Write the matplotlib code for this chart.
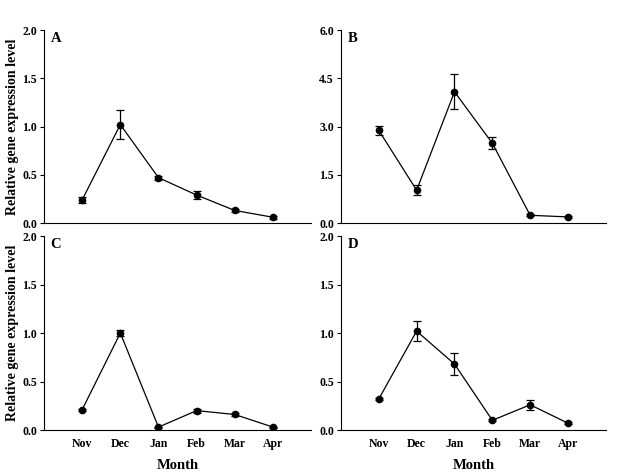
import matplotlib
matplotlib.use("Agg")
import matplotlib.pyplot as plt

plt.rcParams['font.family'] = ['Liberation Serif', 'DejaVu Serif']
plt.rcParams['font.weight'] = 'bold'

months = ["Nov", "Dec", "Jan", "Feb", "Mar", "Apr"]
xpos = [1, 2, 3, 4, 5, 6]

a_vals = [0.24, 1.02, 0.47, 0.29, 0.13, 0.06]
a_err = [0.03, 0.15, 0.02, 0.04, 0.02, 0.015]

b_vals = [2.88, 1.02, 4.08, 2.48, 0.24, 0.19]
b_err = [0.14, 0.15, 0.55, 0.18, 0.03, 0.03]

c_vals = [0.21, 1.00, 0.03, 0.20, 0.16, 0.03]
c_err = [0.01, 0.03, 0.005, 0.02, 0.02, 0.005]

d_vals = [0.32, 1.02, 0.68, 0.10, 0.26, 0.07]
d_err = [0.01, 0.10, 0.11, 0.01, 0.05, 0.01]

panels = [
    ("A", a_vals, a_err, [0.0, 0.5, 1.0, 1.5, 2.0], 2.0),
    ("B", b_vals, b_err, [0.0, 1.5, 3.0, 4.5, 6.0], 6.0),
    ("C", c_vals, c_err, [0.0, 0.5, 1.0, 1.5, 2.0], 2.0),
    ("D", d_vals, d_err, [0.0, 0.5, 1.0, 1.5, 2.0], 2.0),
]

rects = [
    [0.0709, 0.5285, 0.430, 0.408],
    [0.549, 0.5285, 0.4267, 0.408],
    [0.0709, 0.0909, 0.430, 0.410],
    [0.549, 0.0909, 0.4267, 0.410],
]

fig = plt.figure(figsize=(6.21, 4.73), dpi=100)

for (letter, vals, err, yt, ymax), rect in zip(panels, rects):
    ax = fig.add_axes(rect)
    ax.errorbar(xpos, vals, yerr=err, color='black', marker='o', markersize=4.5,
                linewidth=0.9, elinewidth=0.9, capsize=3, capthick=0.9)
    ax.set_xlim(0, 7)
    ax.set_ylim(0, ymax)
    ax.set_yticks(yt)
    ax.set_yticklabels(["%.1f" % t for t in yt], fontsize=8.5, fontweight='bold')
    ax.spines['top'].set_visible(False)
    ax.spines['right'].set_visible(False)
    ax.tick_params(axis='y', direction='out', length=3, width=0.8, pad=2)
    ax.tick_params(axis='x', length=0, pad=6)
    if letter in ("C", "D"):
        ax.set_xticks(xpos)
        ax.set_xticklabels(months, fontsize=8.5, fontweight='bold')
        ax.set_xlabel("Month", fontsize=10.5, fontweight='bold', labelpad=6)
    else:
        ax.set_xticks([])
    if letter in ("A", "C"):
        ax.set_ylabel("Relative gene expression level", fontsize=10, fontweight='bold', labelpad=2)
    ax.text(0.025, 0.99, letter, transform=ax.transAxes, fontsize=10.5,
            fontweight='bold', va='top', ha='left')

fig.savefig("out.png", dpi=100)
